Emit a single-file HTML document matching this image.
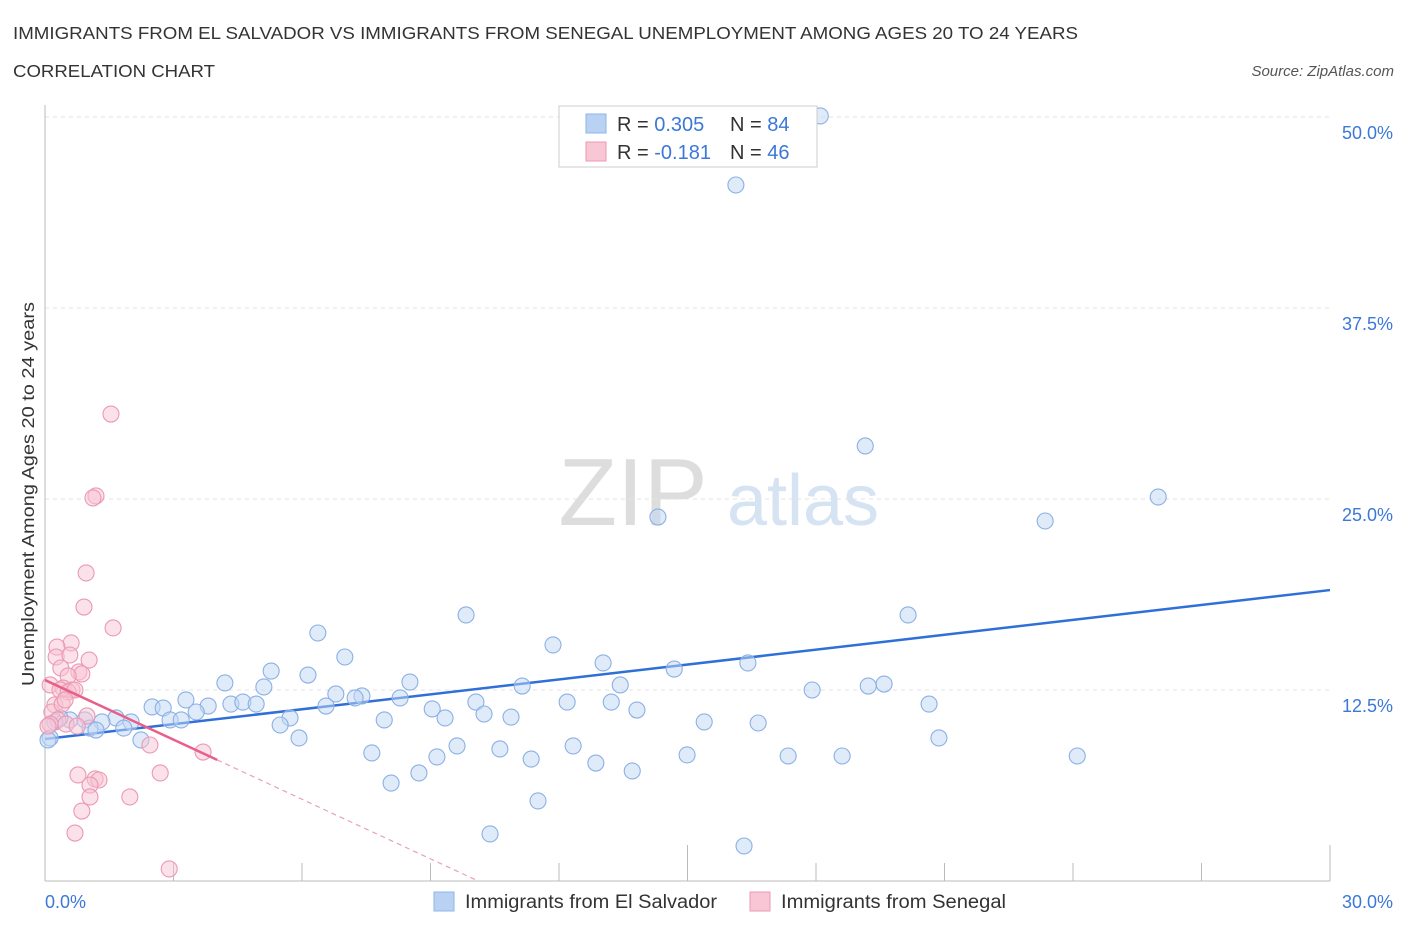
<!DOCTYPE html>
<html><head><meta charset="utf-8"><style>
body{margin:0;background:#fff;font-family:"Liberation Sans",sans-serif;}
svg text{font-family:"Liberation Sans",sans-serif;}
</style></head><body>
<svg id="chart" width="1406" height="930" xmlns="http://www.w3.org/2000/svg">
<text x="13" y="39" font-size="17.5" fill="#333" textLength="1065" lengthAdjust="spacingAndGlyphs">IMMIGRANTS FROM EL SALVADOR VS IMMIGRANTS FROM SENEGAL UNEMPLOYMENT AMONG AGES 20 TO 24 YEARS</text>
<text x="13" y="77" font-size="17.5" fill="#333" textLength="202" lengthAdjust="spacingAndGlyphs">CORRELATION CHART</text>
<text x="1394" y="76" font-size="15" fill="#555" font-style="italic" text-anchor="end">Source: ZipAtlas.com</text>
<g>
<text x="633" y="525" font-size="96" fill="#ddd" font-family="Liberation Serif" text-anchor="middle">ZIP</text>
<text x="803" y="525" font-size="72" fill="#d5e3f3" text-anchor="middle">atlas</text>
</g>
<g id="grid"></g><g id="axes"></g><g id="trend"></g><g id="pts"></g>
<text transform="translate(34,494) rotate(-90)" font-size="17.5" fill="#333" text-anchor="middle" textLength="384" lengthAdjust="spacingAndGlyphs">Unemployment Among Ages 20 to 24 years</text>
<text x="45" y="908" font-size="18" fill="#3b78d8">0.0%</text>
<text x="1393" y="908" font-size="18" fill="#3b78d8" text-anchor="end">30.0%</text>
<g>
<rect x="559" y="106" width="258" height="61" fill="#fff" stroke="#ccc"/>
<rect x="586" y="114" width="20" height="19" fill="#b9d2f4" stroke="#8fb5e8"/>
<rect x="586" y="142" width="20" height="19" fill="#f8c6d5" stroke="#ee9ab5"/>
<text x="617" y="131" font-size="20" fill="#333">R = <tspan fill="#3b78d8">0.305</tspan><tspan x="730">N = </tspan><tspan fill="#3b78d8">84</tspan></text>
<text x="617" y="159" font-size="20" fill="#333">R = <tspan fill="#3b78d8">-0.181</tspan><tspan x="730">N = </tspan><tspan fill="#3b78d8">46</tspan></text>
</g>
<g>
<rect x="434" y="892" width="20" height="19" fill="#b9d2f4" stroke="#8fb5e8"/>
<text x="465" y="908" font-size="19" fill="#333" textLength="252" lengthAdjust="spacingAndGlyphs">Immigrants from El Salvador</text>
<rect x="750" y="892" width="20" height="19" fill="#f8c6d5" stroke="#ee9ab5"/>
<text x="781" y="908" font-size="19" fill="#333" textLength="225" lengthAdjust="spacingAndGlyphs">Immigrants from Senegal</text>
</g>
</svg>
<script>
const yTicks=[12.5,25,37.5,50];
const yTickLabels=["12.5%","25.0%","37.5%","50.0%"];
const xTicks=[0,3,6,9,12,15,18,21,24,27,30];
const blueX=[18.10,16.13,19.15,25.99,14.31,23.35,9.83,20.15,6.37,11.86,7.00,13.03,16.41,5.28,6.14,14.69,4.20,8.52,13.43,5.11,11.14,17.91,19.22,19.59,6.79,7.40,7.24,3.29,10.06,8.29,2.50,2.76,3.81,4.34,4.62,4.93,6.56,12.19,13.22,20.64,9.04,3.53,10.25,13.82,2.92,3.18,5.72,7.92,9.34,10.88,5.49,1.66,2.01,1.33,0.93,0.58,0.35,0.23,1.05,1.19,1.84,2.24,5.93,15.39,16.65,20.87,9.62,12.33,10.62,7.63,9.15,11.35,12.86,14.99,17.35,18.61,24.10,13.71,8.73,8.08,11.51,10.39,16.32,0.12,0.07];
const blueY=[50.07,45.55,28.47,25.13,23.82,23.56,17.41,17.41,16.23,15.45,14.66,14.27,14.27,13.74,13.48,13.87,12.96,13.02,12.83,12.70,12.76,12.50,12.76,12.89,12.24,12.11,11.98,11.85,11.71,11.98,11.39,11.32,11.45,11.58,11.71,11.58,11.45,11.71,11.71,11.58,11.26,11.06,10.93,11.19,10.54,10.54,10.67,10.54,10.67,10.73,10.21,10.67,10.41,10.41,10.54,10.54,10.67,10.41,10.01,9.88,10.01,9.23,9.36,10.41,10.34,9.36,8.84,8.84,8.64,8.38,8.12,7.98,7.72,8.25,8.18,8.18,8.18,7.20,7.07,6.41,5.24,3.08,2.29,9.36,9.23];
const pinkX=[1.54,1.19,1.12,0.96,0.91,1.59,0.61,0.28,1.03,0.26,0.58,0.37,0.79,0.86,0.54,0.12,0.42,0.63,0.35,0.54,0.70,0.23,0.16,0.98,0.30,0.12,0.49,0.75,2.45,3.69,0.77,2.69,1.17,1.26,1.05,1.05,1.98,0.86,0.70,2.90,0.07,0.40,0.47];
const pinkY=[30.56,25.20,25.07,20.16,17.93,16.56,15.58,15.31,14.46,14.66,14.79,13.94,13.68,13.55,13.42,12.83,12.63,12.50,12.50,12.37,12.50,11.52,11.06,10.80,10.54,10.27,10.27,10.14,8.90,8.44,6.94,7.07,6.68,6.61,6.28,5.50,5.50,4.58,3.14,0.79,10.14,11.58,11.85];
const blueTrend=[9.29,19.04]; // y at x=0, x=30
const pinkTrend=[13.15,-1.30]; // intercept, slope
const pinkSolidEnd=4.02;
const X=v=>45+v*42.833, Y=v=>881-v*15.28;
const NS="http://www.w3.org/2000/svg";
function mk(t,a,p){const e=document.createElementNS(NS,t);for(const k in a)e.setAttribute(k,a[k]);p.appendChild(e);return e;}
const grid=document.getElementById('grid'),axes=document.getElementById('axes'),trend=document.getElementById('trend'),pts=document.getElementById('pts');
yTicks.forEach((v,i)=>{
 const l=mk('line',{x1:45,x2:1330,y1:Y(v),y2:Y(v),stroke:'#e3e3e3','stroke-dasharray':'4,4'},grid);
 
 
 const t=mk('text',{x:1393,y:Y(v)+22,'font-size':18,fill:'#3b78d8','text-anchor':'end'},grid);
 t.textContent=yTickLabels[i];
 
 
});
const ax=mk('line',{x1:45,x2:45,y1:105,y2:881,stroke:'#bbb'},axes);


const bx=mk('line',{x1:45,x2:1330,y1:881,y2:881,stroke:'#bbb'},axes);


xTicks.forEach(v=>{
 const top=(v%15===0)?845:863;
 const l=mk('line',{x1:X(v),x2:X(v),y1:top,y2:881,stroke:'#bbb'},axes);
 
 
});
function dot(x,y,f,s,n){
 const c=mk('circle',{cx:X(x),cy:Y(y),r:8,fill:f,'fill-opacity':0.5,stroke:s,'stroke-width':1.1},pts);
 
 
}
blueX.forEach((x,i)=>dot(x,blueY[i],'#c2d8f5','#8ab0e4','point-el-salvador'));
pinkX.forEach((x,i)=>dot(x,pinkY[i],'#f7c4d3','#ec98b3','point-senegal'));
const bl=mk('line',{x1:X(0),y1:Y(blueTrend[0]),x2:X(30),y2:Y(blueTrend[1]),stroke:'#2f6fd8','stroke-width':2.5},trend);


const pz=-pinkTrend[0]/pinkTrend[1];
const pd=mk('line',{x1:X(pinkSolidEnd),y1:Y(pinkTrend[0]+pinkTrend[1]*pinkSolidEnd),x2:X(pz),y2:Y(0),stroke:'#e8a0b8','stroke-width':1.2,'stroke-dasharray':'5,4'},trend);


const pl=mk('line',{x1:X(0),y1:Y(pinkTrend[0]),x2:X(pinkSolidEnd),y2:Y(pinkTrend[0]+pinkTrend[1]*pinkSolidEnd),stroke:'#e8608a','stroke-width':2.5},pts);


</script>
</body></html>
